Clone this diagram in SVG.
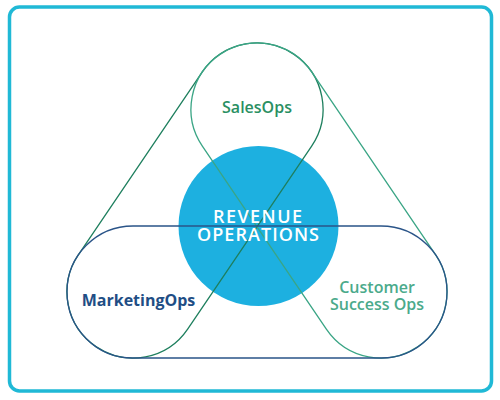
<svg xmlns="http://www.w3.org/2000/svg" width="500" height="400" viewBox="0 0 500 400">
  <style>
    .cap { fill: none; stroke-width: 1.3; }
    .lbl { font-family: "Open Sans", "Liberation Sans", sans-serif; text-anchor: middle; }
  </style>
  <rect x="0" y="0" width="500" height="400" fill="#ffffff"/>
  <rect id="frame" x="9.5" y="7" width="482" height="384" rx="10" fill="none" stroke="#20B9D6" stroke-width="3.5"/>
  <g id="revops">
    <circle cx="258.5" cy="226" r="80" fill="#1DB0E0"/>
  </g>
  <g id="connectors">
    <path class="cap" stroke="#1E7F5E" d="M202.35,71.97 A66,66 0 0 1 311.65,146.03 L187.65,329.03 A66,66 0 0 1 78.35,254.97 Z"/>
    <path class="cap" stroke="#3AA585" d="M202.35,146.03 A66,66 0 0 1 311.65,71.97 L435.65,254.97 A66,66 0 0 1 326.35,329.03 Z"/>
    <path class="cap" stroke="#2A5488" d="M133,226 L381,226 A66,66 0 0 1 381,358 L133,358 A66,66 0 0 1 133,226 Z"/>
  </g>
  <g id="salesops">
    <text class="lbl" x="257" y="113" font-size="16" font-weight="600" fill="#2A8F62">SalesOps</text>
  </g>
  <g id="marketingops">
    <text class="lbl" x="138.5" y="306" font-size="16" font-weight="700" fill="#1F4E85">MarketingOps</text>
  </g>
  <g id="customersuccessops">
    <text class="lbl" x="377" y="293" font-size="16" font-weight="600" fill="#4BAA8B">Customer</text>
    <text class="lbl" x="377" y="310" font-size="16" font-weight="600" fill="#4BAA8B">Success Ops</text>
  </g>
  <g id="revops-label">
    <text class="lbl" x="257.5" y="223" font-size="18" font-weight="600" fill="#ffffff" textLength="89" lengthAdjust="spacing">REVENUE</text>
    <text class="lbl" x="258" y="241" font-size="18" font-weight="600" fill="#ffffff" textLength="122" lengthAdjust="spacing">OPERATIONS</text>
  </g>
</svg>
